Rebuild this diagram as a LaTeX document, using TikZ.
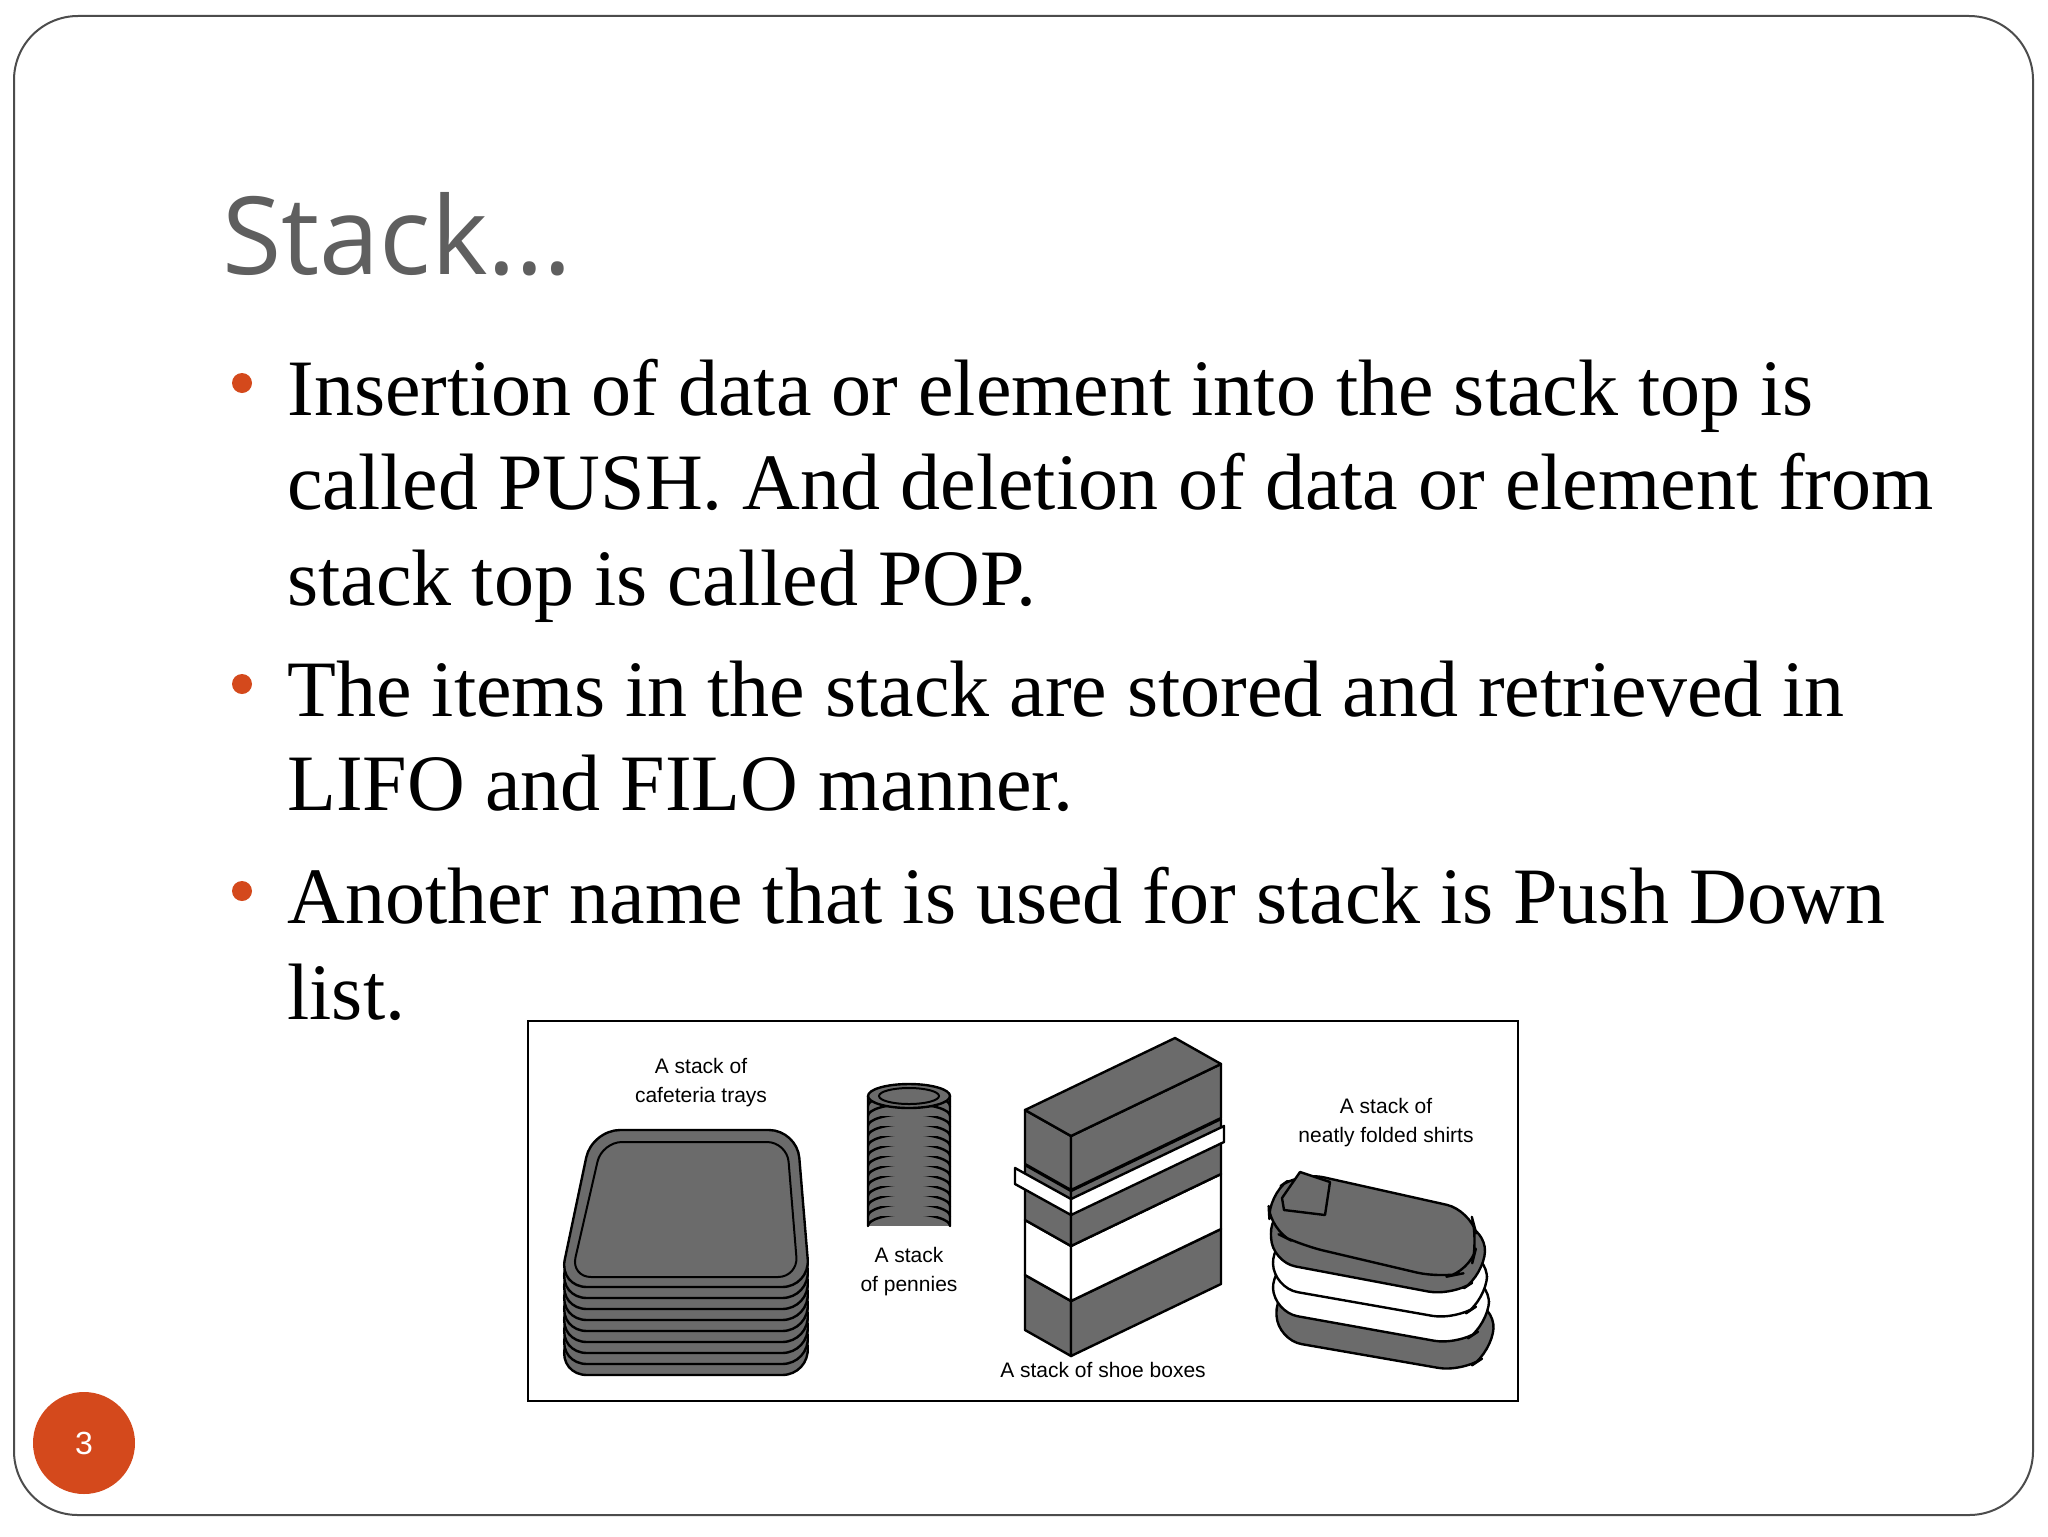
\documentclass[tikz,border=0pt]{standalone}
\usepackage{fontspec}
\setmainfont{Liberation Serif}
\newfontfamily\sans{Liberation Sans}
\newfontfamily\titlef{Open Sans}
\definecolor{accent}{HTML}{D4491C}
\definecolor{titlegray}{HTML}{5F5F5F}
\begin{document}
\begin{tikzpicture}[x=0.5pt,y=-0.5pt,
  body/.style={anchor=base west,inner sep=0,font=\fontsize{40}{48}\selectfont},
  bul/.style={circle,fill=accent,inner sep=0,minimum size=10pt},
  lbl/.style={inner sep=0,font=\sans\fontsize{10.5}{12}\selectfont},
  dark/.style={fill=black!58,draw=black,line width=1.2pt,line join=round},
  light/.style={fill=white,draw=black,line width=1.2pt,line join=round}]
\useasboundingbox (0,0) rectangle (2048,1536);
\fill[white] (0,0) rectangle (2048,1536);
\draw[black!70,line width=1pt,rounded corners=32pt] (14,16) rectangle (2033,1515);
% title
\node[anchor=base west,inner sep=0,text=titlegray,font=\titlef\fontsize{54}{60}\selectfont] (title) at (222,274) {Stack\ldots};
% bullets
\node[bul] (b1) at (242,383) {};
\node[bul] (b2) at (242,684) {};
\node[bul] (b3) at (242,891) {};
\node[body] (l1) at (287,415) {Insertion of data or element into the stack top is};
\node[body] (l2) at (287,509) {called PUSH. And deletion of data or element from};
\node[body] (l3) at (287,605) {stack top is called POP.};
\node[body] (l4) at (287,716) {The items in the stack are stored and retrieved in};
\node[body] (l5) at (287,810) {LIFO and FILO manner.};
\node[body] (l6) at (287,923) {Another name that is used for stack is Push Down};
\node[body] (l7) at (287,1019) {list.};
% picture frame
\draw[black,line width=1.3pt] (528,1021) rectangle (1518,1401);
% trays
\foreach \i in {8,...,1}{
  \draw[dark,rounded corners=14pt] (592,1130+11*\i) -- (797,1130+11*\i) -- (810,1287+11*\i) -- (559,1287+11*\i) -- cycle;
}
\draw[dark,rounded corners=14pt] (592,1130) -- (797,1130) -- (810,1287) -- (559,1287) -- cycle;
\draw[black,line width=1pt,rounded corners=10pt] (602,1142) -- (787,1142) -- (798,1277) -- (571,1277) -- cycle;
% pennies
\foreach \i in {12,...,0}{
  \fill[black!58] (868,1096+10*\i) rectangle (950,1106+10*\i);
  \draw[dark] (868,1096+10*\i) -- (868,1106+10*\i) arc[start angle=180,end angle=360,x radius=41,y radius=12] -- (950,1096+10*\i);
}
\draw[dark] (909,1096) ellipse[x radius=41,y radius=12];
\draw[black,line width=1pt] (909,1096) ellipse[x radius=30,y radius=8];
% shoe boxes
\foreach \t/\h/\s in {1275/55/dark,1220/55/light,1165/55/dark}{
  \draw[\s] (1025,\t) -- (1071,\t+26) -- (1071,\t+26+\h) -- (1025,\t+\h) -- cycle;
  \draw[\s] (1071,\t+26) -- (1221,\t-46) -- (1221,\t-46+\h) -- (1071,\t+26+\h) -- cycle;
}
\draw[light] (1015,1168) -- (1071,1199) -- (1071,1215) -- (1015,1184) -- cycle;
\draw[light] (1071,1199) -- (1224,1126) -- (1224,1142) -- (1071,1215) -- cycle;
\draw[dark] (1025,1110) -- (1071,1136) -- (1071,1190) -- (1025,1164) -- cycle;
\draw[dark] (1071,1136) -- (1221,1064) -- (1221,1118) -- (1071,1190) -- cycle;
\draw[dark] (1025,1110) -- (1175,1038) -- (1221,1064) -- (1071,1136) -- cycle;
% shirts
\draw[dark,rounded corners=12pt] (1275,1290) -- (1305,1280) -- (1495,1305) -- (1492,1352) -- (1462,1372) -- (1278,1340) -- cycle;
\draw[light,rounded corners=12pt] (1272,1265) -- (1305,1255) -- (1490,1280) -- (1488,1325) -- (1458,1345) -- (1274,1312) -- cycle;
\draw[light,rounded corners=12pt] (1272,1240) -- (1305,1230) -- (1488,1255) -- (1486,1300) -- (1456,1320) -- (1274,1288) -- cycle;
\draw[dark,rounded corners=12pt] (1270,1210) -- (1300,1200) -- (1486,1228) -- (1484,1275) -- (1452,1296) -- (1272,1262) -- cycle;
\draw[dark,rounded corners=12pt] (1268,1195) -- (1300,1172) -- (1470,1210) -- (1478,1240) -- (1470,1272) -- (1440,1278) -- (1300,1245) -- (1270,1230) -- cycle;
\draw[dark] (1282,1198) -- (1300,1172) -- (1330,1182) -- (1325,1215) -- (1284,1210) -- cycle;
% labels
\node[lbl] (t1) at (701,1066) {A stack of};
\node[lbl] (t2) at (701,1097) {cafeteria trays};
\node[lbl] (p1) at (909,1255) {A stack};
\node[lbl] (p2) at (909,1286) {of pennies};
\node[lbl] (s1) at (1103,1370) {A stack of shoe boxes};
\node[lbl] (h1) at (1386,1106) {A stack of};
\node[lbl] (h2) at (1386,1137) {neatly folded shirts};
% page number
\node[circle,fill=accent,minimum size=51pt,inner sep=0,text=white,font=\sans\fontsize{16}{18}\selectfont] (pg) at (84,1443) {3};
\end{tikzpicture}
\end{document}
